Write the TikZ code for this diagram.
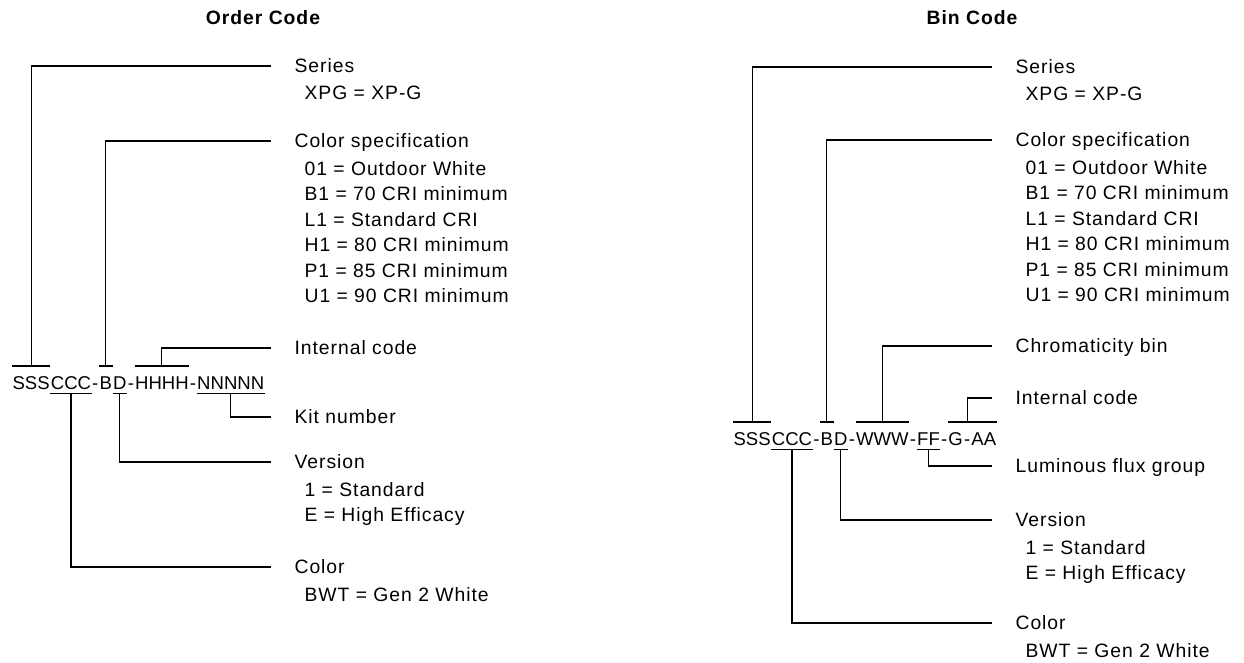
\documentclass[tikz,border=0pt]{standalone}
\usepackage{fontspec}
\setmainfont[LetterSpace=5]{Liberation Sans}
\newfontfamily\codefont{Liberation Sans}
\usetikzlibrary{positioning}

\tikzset{
  part/.style={inner sep=0pt, text height=10pt, text depth=0pt, font=\codefont\fontsize{13.9}{19.1}\selectfont},
  head/.style={inner sep=0pt, anchor=west, text height=10.4pt, text depth=0pt},
  desc/.style={inner sep=0pt, anchor=north west, align=left},
  title/.style={font=\fontsize{14.5}{19.1}\selectfont\bfseries},
}

\begin{document}
\begin{tikzpicture}[x=0.75pt,y=-0.75pt,font=\fontsize{14.5}{19.1}\selectfont,line width=0.9pt]
\useasboundingbox (0,0) rectangle (1244,662);

% Order Code
\node[title] (otitle) at (263,18) {Order Code};
\node[part, anchor=base west] (oS) at (12,389) {SSS};
\node[part, base right=0pt of oS] (oC) {CCC};
\node[part, base right=0pt of oC] (oh1) {-};
\node[part, base right=0pt of oh1] (oB) {B};
\node[part, base right=0pt of oB] (oD) {D};
\node[part, base right=0pt of oD] (oh2) {-};
\node[part, base right=0pt of oh2] (oH) {HHHH};
\node[part, base right=0pt of oH] (oh3) {-};
\node[part, base right=0pt of oh3] (oN) {NNNNN};

\node[head] (oSer) at (294,66) {Series};
\node[desc, below right=9pt and 7.5pt of oSer.south west] (oSerD) {XPG = XP-G};
\node[head] (oSpec) at (294,141) {Color specification};
\node[desc, below right=9pt and 7.5pt of oSpec.south west] (oSpecD) {01 = Outdoor White\\B1 = 70 CRI minimum\\L1 = Standard CRI\\H1 = 80 CRI minimum\\P1 = 85 CRI minimum\\U1 = 90 CRI minimum};
\node[head] (oInt) at (294,348) {Internal code};
\node[head] (oKit) at (294,417) {Kit number};
\node[head] (oVer) at (294,462) {Version};
\node[desc, below right=9pt and 7.5pt of oVer.south west] (oVerD) {1 = Standard\\E = High Efficacy};
\node[head] (oCol) at (294,567) {Color};
\node[desc, below right=9pt and 7.5pt of oCol.south west] (oColD) {BWT = Gen 2 White};

\draw ([yshift=6.75pt]oS.north west) -- ([yshift=6.75pt]oS.north east);
\draw ([yshift=6.75pt]oB.north west) -- ([yshift=6.75pt]oB.north east);
\draw ([yshift=6.75pt]oH.north west) -- ([yshift=6.75pt]oH.north east);
\draw ([yshift=-3pt]oC.south west) -- ([yshift=-3pt]oC.south east);
\draw ([yshift=-3pt]oD.south west) -- ([yshift=-3pt]oD.south east);
\draw ([yshift=-3pt]oN.south west) -- ([yshift=-3pt]oN.south east);
\draw ([yshift=6.75pt]oS.north) |- ([xshift=-17pt]oSer.west);
\draw ([yshift=6.75pt]oB.north) |- ([xshift=-17pt]oSpec.west);
\draw ([yshift=6.75pt]oH.north) |- ([xshift=-17pt]oInt.west);
\draw ([yshift=-3pt]oN.south) |- ([xshift=-17pt]oKit.west);
\draw ([yshift=-3pt]oD.south) |- ([xshift=-17pt]oVer.west);
\draw ([yshift=-3pt]oC.south) |- ([xshift=-17pt]oCol.west);

% Bin Code
\node[title] (btitle) at (972,18) {Bin Code};
\node[part, anchor=base west] (bS) at (733,445) {SSS};
\node[part, base right=0pt of bS] (bC) {CCC};
\node[part, base right=0pt of bC] (bh1) {-};
\node[part, base right=0pt of bh1] (bB) {B};
\node[part, base right=0pt of bB] (bD) {D};
\node[part, base right=0pt of bD] (bh2) {-};
\node[part, base right=0pt of bh2] (bW) {WWW};
\node[part, base right=0pt of bW] (bh3) {-};
\node[part, base right=0pt of bh3] (bF) {FF};
\node[part, base right=0pt of bF] (bh4) {-};
\node[part, base right=0pt of bh4] (bG) {G};
\node[part, base right=0pt of bG] (bh5) {-};
\node[part, base right=0pt of bh5] (bA) {AA};

\node[head] (bSer) at (1015,67) {Series};
\node[desc, below right=9pt and 7.5pt of bSer.south west] (bSerD) {XPG = XP-G};
\node[head] (bSpec) at (1015,140) {Color specification};
\node[desc, below right=9pt and 7.5pt of bSpec.south west] (bSpecD) {01 = Outdoor White\\B1 = 70 CRI minimum\\L1 = Standard CRI\\H1 = 80 CRI minimum\\P1 = 85 CRI minimum\\U1 = 90 CRI minimum};
\node[head] (bChr) at (1015,346) {Chromaticity bin};
\node[head] (bInt) at (1015,398) {Internal code};
\node[head] (bLum) at (1015,466) {Luminous flux group};
\node[head] (bVer) at (1015,520) {Version};
\node[desc, below right=9pt and 7.5pt of bVer.south west] (bVerD) {1 = Standard\\E = High Efficacy};
\node[head] (bCol) at (1015,623) {Color};
\node[desc, below right=9pt and 7.5pt of bCol.south west] (bColD) {BWT = Gen 2 White};

\draw ([yshift=6.75pt]bS.north west) -- ([yshift=6.75pt]bS.north east);
\draw ([yshift=6.75pt]bB.north west) -- ([yshift=6.75pt]bB.north east);
\draw ([yshift=6.75pt]bW.north west) -- ([yshift=6.75pt]bW.north east);
\draw ([yshift=6.75pt]bG.north west) -- ([yshift=6.75pt]bA.north east);
\draw ([yshift=-3pt]bC.south west) -- ([yshift=-3pt]bC.south east);
\draw ([yshift=-3pt]bD.south west) -- ([yshift=-3pt]bD.south east);
\draw ([yshift=-3pt]bF.south west) -- ([yshift=-3pt]bF.south east);
\draw ([yshift=6.75pt]bS.north) |- ([xshift=-17pt]bSer.west);
\draw ([yshift=6.75pt]bB.north) |- ([xshift=-17pt]bSpec.west);
\draw ([yshift=6.75pt]bW.north) |- ([xshift=-17pt]bChr.west);
\draw ([yshift=6.75pt]bh5.north) |- ([xshift=-17pt]bInt.west);
\draw ([yshift=-3pt]bF.south) |- ([xshift=-17pt]bLum.west);
\draw ([yshift=-3pt]bD.south) |- ([xshift=-17pt]bVer.west);
\draw ([yshift=-3pt]bC.south) |- ([xshift=-17pt]bCol.west);
\end{tikzpicture}
\end{document}
